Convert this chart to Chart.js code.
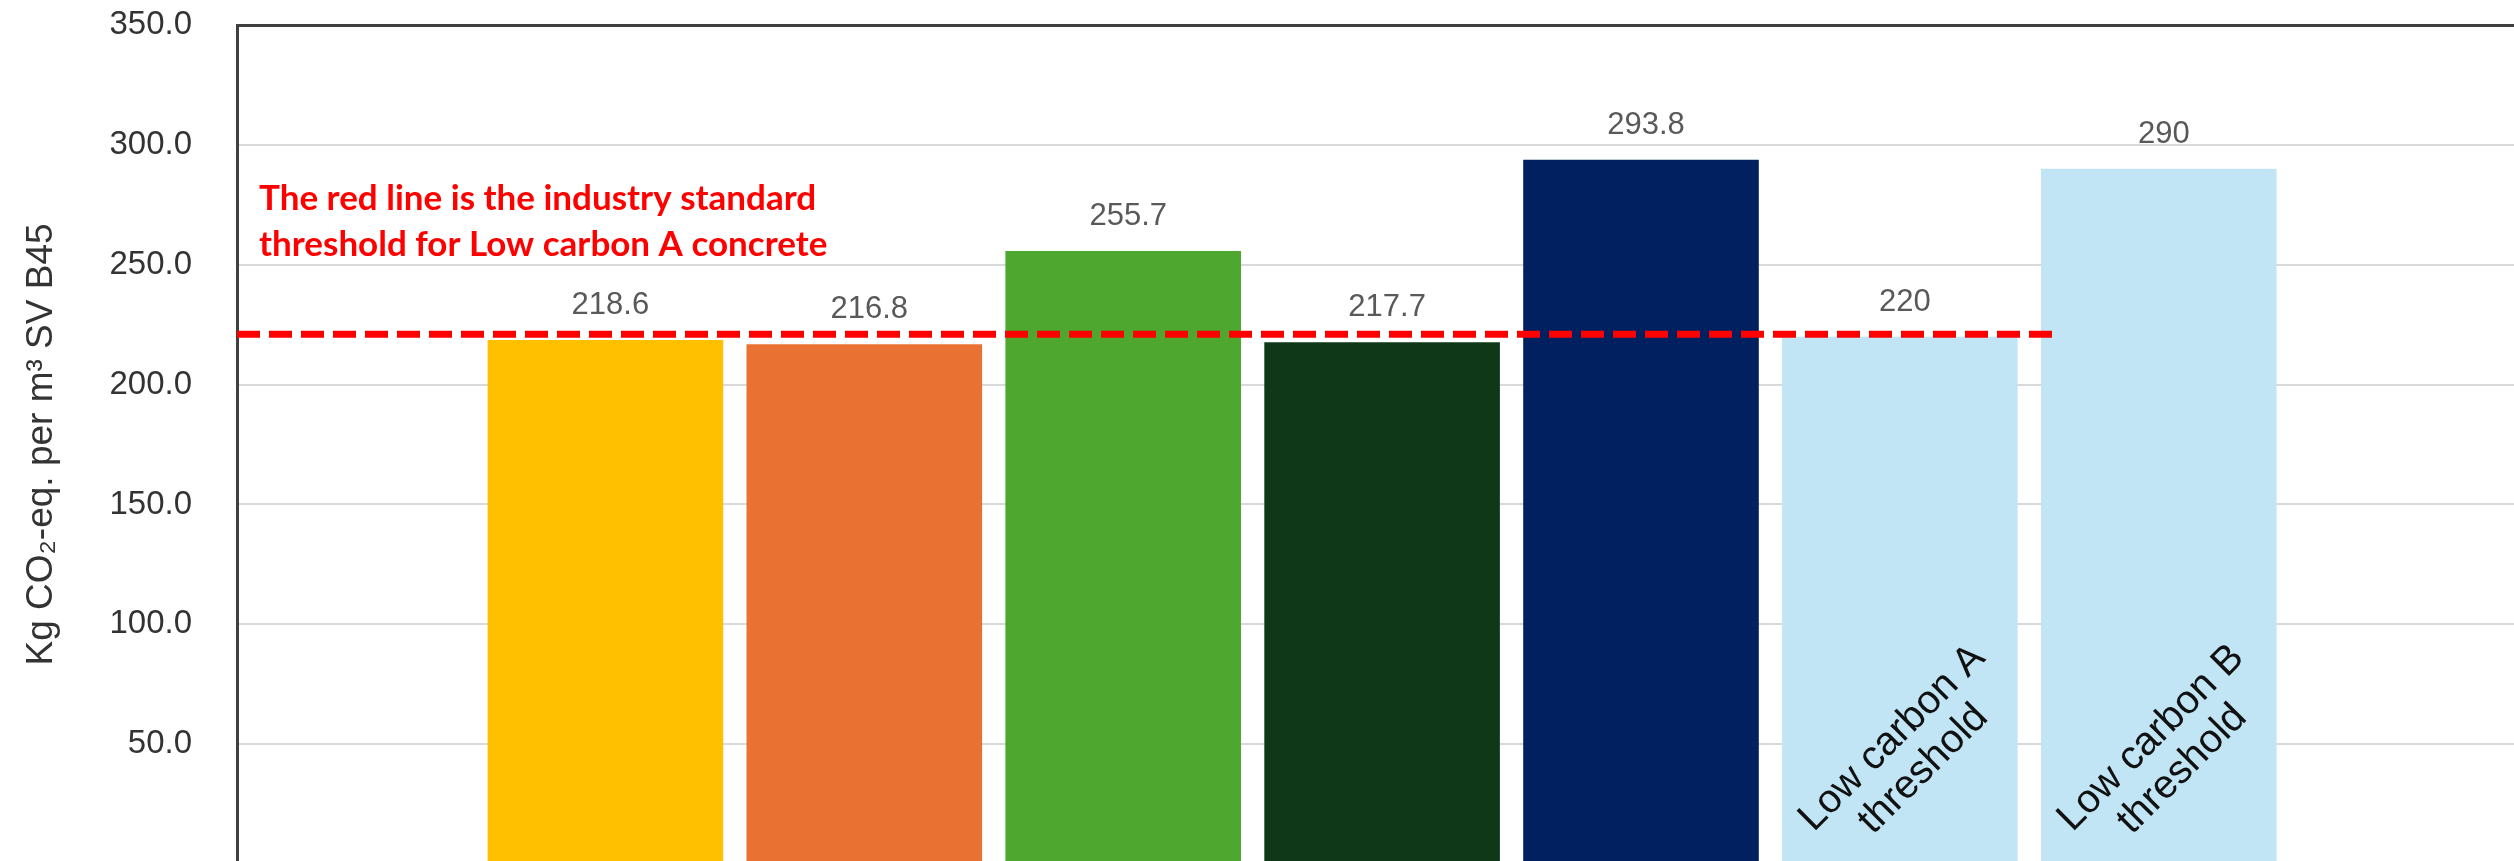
<!DOCTYPE html>
<html>
<head>
<meta charset="utf-8">
<script src="https://cdn.jsdelivr.net/npm/chart.js@4.4.1/dist/chart.umd.min.js"></script>
<style>
html, body { margin: 0; padding: 0; background: #fff; overflow: hidden; }
#wrap { width: 2514px; height: 861px; overflow: hidden; }
</style>
</head>
<body>
<div id="wrap"><canvas id="co2Chart" width="2514" height="864"></canvas></div>
<script>
// values
var barValues = [218.6, 216.8, 255.7, 217.7, 293.8, 220, 290];
var barColors = ['#FFC000', '#E97132', '#4EA72E', '#0F3818', '#002060', '#C1E5F5', '#C1E5F5'];
var innerLabels = [[], [], [], [], [], ['Low carbon A', 'threshold'], ['Low carbon B', 'threshold']];
var yTicks = [0, 50, 100, 150, 200, 250, 300, 350];
var noteLines = ['The red line is the industry standard', 'threshold for Low carbon A concrete'];
var redLineValue = 221;
var redLineX = [-1.423, 5.606];
var dotLineX = [-1.423, 5.444];

var labelFont = '"Liberation Sans", Arial, sans-serif';

var labelPlugin = {
    id: 'barLabels',
    afterDatasetsDraw: function (chart) {
        var ctx = chart.ctx;
        var meta = chart.getDatasetMeta(2);
        var yScale = chart.scales.y;
        ctx.save();
        // value labels above bars
        ctx.font = '31px ' + labelFont;
        ctx.fillStyle = '#595959';
        ctx.textAlign = 'center';
        ctx.textBaseline = 'alphabetic';
        meta.data.forEach(function (bar, i) {
            var v = barValues[i];
            ctx.fillText(v % 1 ? v.toFixed(1) : String(v), bar.x + 5, bar.y - 26);
        });
        // rotated text inside the threshold bars
        ctx.font = '40px ' + labelFont;
        ctx.fillStyle = '#111';
        ctx.textBaseline = 'middle';
        meta.data.forEach(function (bar, i) {
            var lines = innerLabels[i];
            if (!lines.length) return;
            ctx.save();
            ctx.translate(bar.x + 8, yScale.getPixelForValue(46));
            ctx.rotate(-Math.PI / 4);
            ctx.fillText(lines[0], 0, -22);
            ctx.fillText(lines[1], 0, 22);
            ctx.restore();
        });
        // red note
        ctx.font = 'bold 35px Lato, sans-serif';
        ctx.fillStyle = '#FF0000';
        ctx.textAlign = 'left';
        ctx.textBaseline = 'alphabetic';
        ctx.fillText(noteLines[0], chart.chartArea.left + 22, 210);
        ctx.fillText(noteLines[1], chart.chartArea.left + 22, 256);
        ctx.restore();
    }
};

var ctx = document.getElementById('co2Chart').getContext('2d');
var co2Chart = new Chart(ctx, {
    type: 'bar',
    data: {
        datasets: [{
            type: 'line',
            data: redLineX.map(function (x) { return { x: x, y: redLineValue }; }),
            borderColor: '#FF0000',
            borderWidth: 7,
            borderDash: [23, 9],
            pointRadius: 0,
            order: 0
        }, {
            type: 'line',
            data: dotLineX.map(function (x) { return { x: x, y: redLineValue }; }),
            borderColor: '#000000',
            borderWidth: 4,
            borderDash: [4, 12],
            pointRadius: 0,
            order: 1
        }, {
            data: barValues.map(function (v, i) { return { x: i, y: v }; }),
            backgroundColor: barColors,
            borderWidth: 0,
            categoryPercentage: 1,
            barPercentage: 0.91,
            order: 2
        }]
    },
    options: {
        responsive: false,
        animation: false,
        layout: { padding: { top: 25, right: 0, bottom: 0, left: 0 } },
        plugins: {
            legend: { display: false },
            tooltip: { enabled: false }
        },
        scales: {
            x: {
                type: 'linear',
                display: false,
                offset: false,
                min: -1.423,
                max: 7.372,
                afterBuildTicks: function (scale) {
                    scale.ticks = barValues.map(function (v, i) { return { value: i }; });
                }
            },
            y: {
                min: 0,
                max: 350,
                afterBuildTicks: function (scale) {
                    scale.ticks = yTicks.map(function (v) { return { value: v }; });
                },
                afterFit: function (scale) {
                    scale.width = 237;
                    scale.paddingTop = 0;
                    scale.paddingBottom = 0;
                },
                ticks: {
                    padding: 45,
                    color: '#333',
                    font: { family: labelFont, size: 33 },
                    callback: function (v) { return v === 0 ? '' : v.toFixed(1); }
                },
                grid: {
                    drawTicks: false,
                    color: function (c) { return c.tick && c.tick.value === 350 ? '#404040' : '#D9D9D9'; },
                    lineWidth: function (c) { return c.tick && c.tick.value === 350 ? 3 : 2; }
                },
                border: { display: true, color: '#404040', width: 3 },
                title: {
                    display: true,
                    text: 'Kg CO\u2082-eq. per m\u00B3 SV B45',
                    color: '#333',
                    font: { family: labelFont, size: 37 },
                    padding: { top: 20, bottom: 0 }
                }
            }
        }
    },
    plugins: [labelPlugin]
});
</script>
</body>
</html>
